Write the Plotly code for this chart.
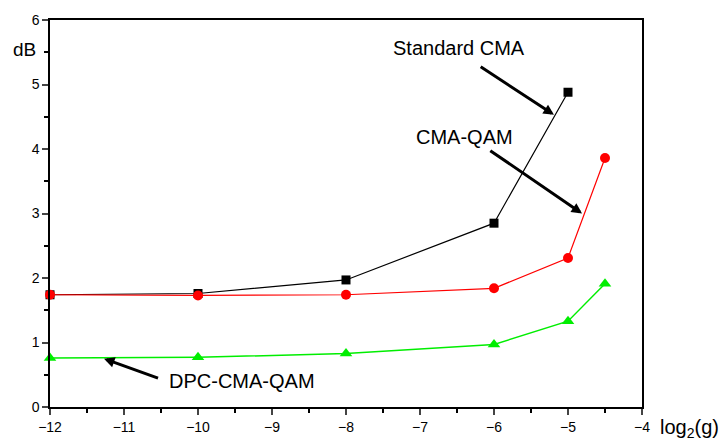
import plotly.graph_objects as go

x_std = [-12, -10, -8, -6, -5]
y_std = [1.74, 1.76, 1.97, 2.85, 4.88]
x_cq = [-12, -10, -8, -6, -5, -4.5]
y_cq = [1.74, 1.73, 1.74, 1.84, 2.31, 3.86]
x_dpc = [-12, -10, -8, -6, -5, -4.5]
y_dpc = [0.76, 0.77, 0.83, 0.97, 1.33, 1.91]

FONT = "Liberation Sans, Arial, sans-serif"

fig = go.Figure()
fig.add_trace(go.Scatter(x=x_std, y=y_std, mode="lines+markers", name="Standard CMA",
                         line=dict(color="black", width=1.2),
                         marker=dict(symbol="square", size=9, color="black"), cliponaxis=False))
fig.add_trace(go.Scatter(x=x_cq, y=y_cq, mode="lines+markers", name="CMA-QAM",
                         line=dict(color="#ff0000", width=1.2),
                         marker=dict(symbol="circle", size=10, color="#ff0000"), cliponaxis=False))
fig.add_trace(go.Scatter(x=x_dpc, y=y_dpc, mode="lines+markers", name="DPC-CMA-QAM",
                         line=dict(color="#00ee00", width=1.5),
                         marker=dict(symbol="triangle-up", size=11, color="#00ee00"), cliponaxis=False))

arrows = [(-5.19, 4.53, -6.20, 5.29), (-4.81, 3.00, -6.07, 3.99), (-11.27, 0.75, -10.52, 0.44)]
for hx, hy, tx, ty in arrows:
    fig.add_annotation(x=hx, y=hy, ax=tx, ay=ty, xref="x", yref="y", axref="x", ayref="y",
                       text="", showarrow=True, arrowhead=2, arrowsize=0.7, arrowwidth=3,
                       arrowcolor="black")

labels = [("Standard CMA", -6.47, 5.57), ("CMA-QAM", -6.40, 4.19), ("DPC-CMA-QAM", -9.41, 0.41)]
for t, lx, ly in labels:
    fig.add_annotation(x=lx, y=ly, xref="x", yref="y", text=t, showarrow=False,
                       font=dict(family=FONT, size=20, color="black"))

fig.add_annotation(x=0, y=5.54, xref="paper", yref="y", xanchor="right", text="dB",
                   showarrow=False, xshift=-12, font=dict(family=FONT, size=19, color="black"))
fig.add_annotation(x=1, y=0, xref="paper", yref="paper", xanchor="left", yanchor="top",
                   text="log<sub>2</sub>(g)", showarrow=False, xshift=16, yshift=-7,
                   font=dict(family=FONT, size=20, color="black"))

fig.update_xaxes(range=[-12, -4], dtick=1, tick0=-12, ticks="outside", ticklen=6, tickwidth=1.5,
                 showline=True, linecolor="black", linewidth=1.5, mirror=True, showgrid=False,
                 zeroline=False, tickfont=dict(family=FONT, size=14, color="black"),
                 minor=dict(dtick=0.5, ticks="outside", ticklen=4, tickwidth=1.5, tickcolor="black"))
fig.update_yaxes(range=[0, 6], dtick=1, tick0=0, ticks="outside", ticklen=6, tickwidth=1.5,
                 showline=True, linecolor="black", linewidth=1.5, mirror=True, showgrid=False,
                 zeroline=False, tickfont=dict(family=FONT, size=14, color="black"),
                 minor=dict(dtick=0.5, ticks="outside", ticklen=4, tickwidth=1.5, tickcolor="black"))

fig.update_layout(width=723, height=448, margin=dict(l=50, r=81, t=17, b=41),
                  plot_bgcolor="white", paper_bgcolor="white", showlegend=False,
                  font=dict(family=FONT, color="black"))

fig.write_html("out.html")
